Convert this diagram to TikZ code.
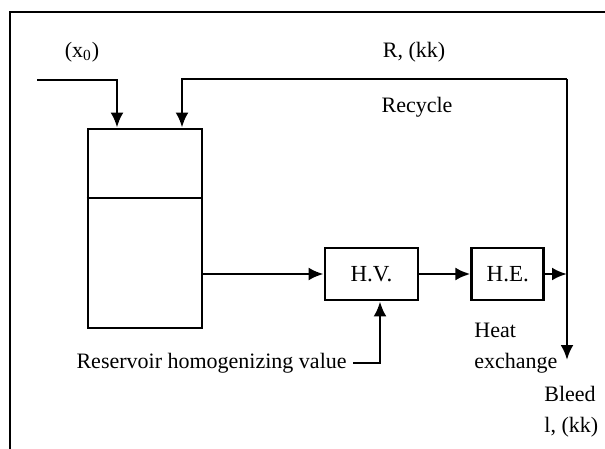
\documentclass[tikz,border=0pt]{standalone}
\usepackage{fontspec}
\setmainfont{Liberation Serif}
\usetikzlibrary{arrows.meta,positioning}
\tikzset{every path/.style={line width=1.4pt}}
\tikzset{flow/.style={-{Latex[length=7.5pt,width=6.5pt]}},
  unit/.style={draw,minimum height=26pt,inner sep=0pt,font=\fontsize{11.5}{15}\selectfont},
  lbl/.style={inner sep=0pt,font=\fontsize{11}{15.5}\selectfont}}

\begin{document}
\begin{tikzpicture}[x=0.5pt,y=-0.5pt]
    \useasboundingbox (0,0) rectangle (605,449);
    \draw (10,449) -- (10,12) -- (605,12);

    % reservoir
    \node[draw,minimum width=57pt,minimum height=99.5pt,inner sep=0pt] (tank) at (145,228.5) {};
    \draw (tank.west |- 0,198) -- (tank.east |- 0,198);

    \node[unit,minimum width=46.5pt] (hv) at (371.5,274) {H.V.};
    \node[unit,minimum width=36pt,right=25.5pt of hv] (he) {H.E.};

    \coordinate (feed) at (37,80);
    \coordinate (top) at (567,79);
    \coordinate (bleed) at (567,360);

    \draw[flow] (feed) -| ([xshift=-14pt]tank.north);
    \draw[flow] (top) -| ([xshift=18.5pt]tank.north);
    \draw[flow] (top) -- (bleed);
    \draw[flow] (tank.east |- hv.west) -- (hv.west);
    \draw[flow] (hv) -- (he);
    \draw[flow] (he) -- (he -| top);

    \node[lbl,anchor=east] (rhv) at (348,363) {Reservoir homogenizing value};
    \draw[flow] ([xshift=2.5pt]rhv.east) -| ([xshift=4.25pt]hv.south);

    \node[lbl] (xin) at (82,52) {(x\textsubscript{0})};
    \node[lbl] (rkk) at (414,52) {R, (kk)};
    \node[lbl] (rec) at (417,107) {Recycle};
    \node[lbl,anchor=west,align=left] (hx) at (473,348.5) {Heat\\exchange};
    \node[lbl,anchor=west,align=left] (bl) at (543,412) {Bleed\\l, (kk)};
\end{tikzpicture}
\end{document}
